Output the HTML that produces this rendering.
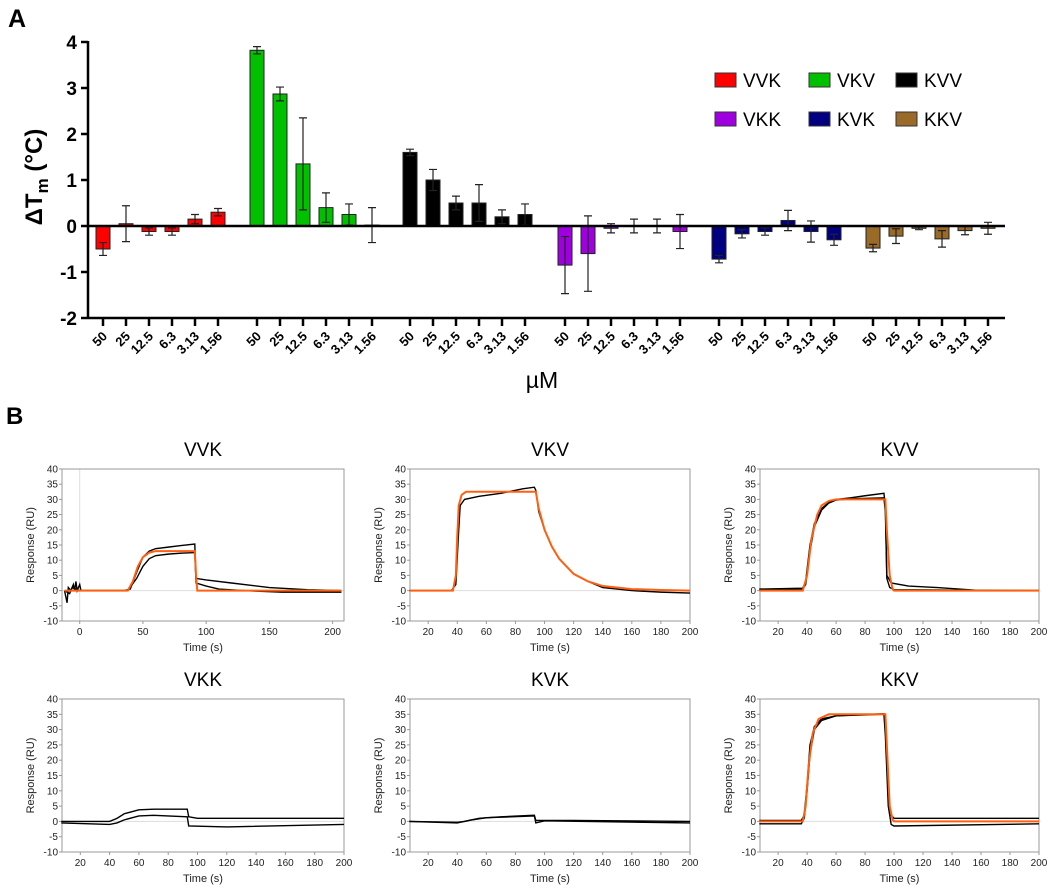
<!DOCTYPE html>
<html><head><meta charset="utf-8">
<style>
html,body{margin:0;padding:0;background:#fff;}
svg{display:block;font-family:"Liberation Sans",Arial,sans-serif;}
</style></head>
<body>
<svg id="fig" width="1050" height="895" viewBox="0 0 1050 895" xmlns="http://www.w3.org/2000/svg">
<text x="8" y="27" font-size="25" font-weight="bold">A</text>
<text x="6" y="424" font-size="24" font-weight="bold">B</text>
<g id="barchart"></g>
<g id="spr"></g>
</svg>
<script>
// ---------- Panel A data ----------
const groups = ["VVK","VKV","KVV","VKK","KVK","KKV"];
const groupColors = ["#ff0000","#00c000","#000000","#a000e0","#000080","#9a6a28"];
const concLabels = ["50","25","12.5","6.3","3.13","1.56"];
const vVVK = [-0.5,0.05,-0.12,-0.12,0.15,0.3];
const eVVK = [0.14,0.39,0.08,0.08,0.1,0.08];
const vVKV = [3.82,2.87,1.35,0.4,0.25,0.02];
const eVKV = [0.08,0.15,1.0,0.32,0.23,0.38];
const vKVV = [1.6,1.0,0.5,0.5,0.2,0.25];
const eKVV = [0.07,0.23,0.15,0.4,0.15,0.23];
const vVKK = [-0.85,-0.6,-0.05,0,0,-0.12];
const eVKK = [0.62,0.82,0.1,0.15,0.15,0.37];
const vKVK = [-0.72,-0.17,-0.12,0.12,-0.12,-0.3];
const eKVK = [0.08,0.09,0.08,0.22,0.23,0.12];
const vKKV = [-0.48,-0.22,-0.05,-0.28,-0.1,-0.05];
const eKKV = [0.08,0.16,0.03,0.18,0.09,0.13];
const yTicks = [-2,-1,0,1,2,3,4];

// ---------- Panel B data (time s, response RU) ----------
const panelTitles = ["VVK","VKV","KVV","VKK","KVK","KKV"];
const t_VVK_a=[-12,-10,-9,-7,-5,-4,-3,-2,0,1,35,40,45,50,55,60,70,80,91,92,100,120,150,180,207];
const r_VVK_a=[0,-4,1,0,2,0,3,0,2,0,0,0.5,6,11,13,13.8,14.3,14.8,15.3,4,3.5,2.5,1,0.3,0];
const t_VVK_b=[-12,-8,-6,0,38,45,50,55,60,70,80,91,92,100,110,130,160,207];
const r_VVK_b=[0,-1,1,0,0,4,8,10.5,11.5,12,12.3,12.5,2.5,1.5,0.5,0,-0.5,-0.5];
const t_VVK_f=[-12,38,42,46,50,55,60,91,92,93,207];
const r_VVK_f=[0,0,3,8,11,12.5,13,13,5,0,0];
const t_VKV_a=[7,36,39,41,42,45,55,70,85,93,94,96,100,105,110,120,130,140,160,180,200];
const r_VKV_a=[0,0,2,20,28,30,31,32,33.5,34,33,26,20,14.5,10.5,5.5,3,1,0,-0.5,-0.8];
const t_VKV_f=[7,37,39,40,41,43,46,94,96,100,105,110,120,130,140,160,180,200];
const r_VKV_f=[0,0,5,18,28,31.5,32.5,32.5,27,20,14.5,10.5,5.5,3,1.5,0.5,0.2,0];
const t_KVV_a=[7,37,39,42,45,50,55,60,70,80,93,94,95,98,110,130,160,200];
const r_KVV_a=[0.5,0.8,3,15,22,27,29,30,30.5,31.2,32,28,5,2.5,1.5,1,0,0];
const t_KVV_b=[7,37,39,42,45,50,55,60,70,93,94,95,97,100,200];
const r_KVV_b=[0.3,0.5,2,13,21,26.5,28.8,29.8,30.2,30.5,26,4,1,0.3,0];
const t_KVV_f=[7,37,40,43,47,50,55,60,94,95,97,99,100,200];
const r_KVV_f=[0,0,5,17,25,28,29.5,30,30,20,5,0.5,0,0];
const t_VKK_a=[7,40,45,50,60,70,93,94,100,200];
const r_VKK_a=[0,0,1,2.5,3.8,4,4,1.5,1,1];
const t_VKK_b=[7,40,45,50,60,70,93,94,120,200];
const r_VKK_b=[-0.5,-1,-0.5,0.5,1.8,2,1.5,-1.5,-1.8,-1];
const t_KVK_a=[7,40,45,55,70,93,94,120,200];
const r_KVK_a=[0,-0.3,0,1,1.5,2,0.3,0.3,0];
const t_KVK_b=[7,40,50,60,93,94,100,200];
const r_KVK_b=[0,-0.5,0.5,1.2,1.8,-0.5,0.2,-0.5];
const t_KKV_a=[7,36,38,40,42,45,50,60,93,94,96,98,100,200];
const r_KKV_a=[0.3,0.3,2,12,25,31,33.5,34.5,35.2,30,8,2,1,1];
const t_KKV_b=[7,36,38,40,42,45,50,60,93,94,96,98,100,200];
const r_KKV_b=[-0.8,-0.8,1,10,22,30,33,34.5,35,28,5,-1,-1.5,-0.8];
const t_KKV_f=[7,37,39,41,44,48,55,94,95,97,99,100,200];
const r_KKV_f=[0,0,5,18,29,33.5,35,35,25,5,0.5,0,0];
const sprY = [-10,-5,0,5,10,15,20,25,30,35,40];
const xTicksVVK = [0,50,100,150,200];
const xTicksStd = [20,40,60,80,100,120,140,160,180,200];

const NS="http://www.w3.org/2000/svg";
function mk(tag,attrs,parent){const e=document.createElementNS(NS,tag);for(const k in attrs)e.setAttribute(k,attrs[k]);parent.appendChild(e);return e;}

// ---------- Panel A ----------
const A=document.getElementById('barchart');
const y0=226, unit=46, axX=88, axBottom=318, axRight=1005;
const yA=v=>y0-v*unit;
const groupStart=[103,257,410,565,719,873];
const step=23, bw=14;
const vals=[vVVK,vVKV,vKVV,vVKK,vKVK,vKKV];
const errs=[eVVK,eVKV,eKVV,eVKK,eKVK,eKKV];
vals.forEach((arr,g)=>{
  arr.forEach((v,i)=>{
    const cx=groupStart[g]+i*step;
    const top=Math.min(yA(v),y0), h=Math.abs(yA(v)-y0);
    const r=mk('rect',{x:cx-bw/2,y:top,width:bw,height:Math.max(h,0.5),fill:groupColors[g],stroke:'#222','stroke-width':1},A);
    
    
    const e=errs[g][i];
    const eb=mk('path',{d:`M${cx},${yA(v+e)}V${yA(v-e)}M${cx-4},${yA(v+e)}h8M${cx-4},${yA(v-e)}h8`,stroke:'#222','stroke-width':1.2,fill:'none'},A);
    
    
    mk('line',{x1:cx,y1:axBottom,x2:cx,y2:axBottom+8,stroke:'#000','stroke-width':2.5},A);
    const t=mk('text',{x:0,y:0,'font-size':13,'font-weight':'bold','text-anchor':'end',transform:`translate(${cx+5},${axBottom+19}) rotate(-45)`},A);
    t.textContent=concLabels[i];
    
    
  });
});
mk('line',{x1:axX,y1:y0,x2:axRight,y2:y0,stroke:'#000','stroke-width':2.5},A);
mk('line',{x1:axX,y1:yA(4)-1,x2:axX,y2:axBottom,stroke:'#000','stroke-width':2.5},A);
mk('line',{x1:axX,y1:axBottom,x2:axRight,y2:axBottom,stroke:'#000','stroke-width':2.5},A);
yTicks.forEach(v=>{
  mk('line',{x1:axX-7,y1:yA(v),x2:axX,y2:yA(v),stroke:'#000','stroke-width':2.5},A);
  const t=mk('text',{x:axX-11,y:yA(v)+7,'font-size':19,'font-weight':'bold','text-anchor':'end'},A);
  t.textContent=v;
  
  
});
{
  const t=mk('text',{x:0,y:0,'font-size':24,'font-weight':'bold','text-anchor':'middle',transform:'translate(42,177) rotate(-90)'},A);
  t.innerHTML='ΔT<tspan font-size="17" dy="6">m</tspan><tspan dy="-6"> (°C)</tspan>';
  
  
  const u=mk('text',{x:542,y:388,'font-size':23,'text-anchor':'middle'},A);
  u.textContent='µM';
  
  
}
const legX=[725,819,906], legY=[80,119];
groups.forEach((g,i)=>{
  const c=i%3, r=Math.floor(i/3);
  const s=mk('rect',{x:legX[c]-10,y:legY[r]-7,width:21,height:14,fill:groupColors[i],stroke:'#333','stroke-width':1},A);
  
  
  const t=mk('text',{x:legX[c]+18,y:legY[r]+7,'font-size':19},A);
  t.textContent=g;
  
  
});

// ---------- Panel B ----------
const B=document.getElementById('spr');
const cols=[[62,344],[410,690],[760,1039]];
const rows=[[469,621],[699,852]];
const series=[
  {xr:[-14,209],xt:xTicksVVK,vline:true,blk:[[t_VVK_a,r_VVK_a],[t_VVK_b,r_VVK_b]],fit:[t_VVK_f,r_VVK_f]},
  {xr:[7.5,200],xt:xTicksStd,blk:[[t_VKV_a,r_VKV_a]],fit:[t_VKV_f,r_VKV_f]},
  {xr:[7.5,200],xt:xTicksStd,blk:[[t_KVV_a,r_KVV_a],[t_KVV_b,r_KVV_b]],fit:[t_KVV_f,r_KVV_f]},
  {xr:[7.5,200],xt:xTicksStd,blk:[[t_VKK_a,r_VKK_a],[t_VKK_b,r_VKK_b]],fit:null},
  {xr:[7.5,200],xt:xTicksStd,blk:[[t_KVK_a,r_KVK_a],[t_KVK_b,r_KVK_b]],fit:null},
  {xr:[7.5,200],xt:xTicksStd,blk:[[t_KKV_a,r_KKV_a],[t_KKV_b,r_KKV_b]],fit:[t_KKV_f,r_KKV_f]}
];
series.forEach((s,p)=>{
  const [L,R]=cols[p%3], [T,Bt]=rows[Math.floor(p/3)];
  const g=mk('g',{},B);
  
  
  const X=v=>L+(v-s.xr[0])/(s.xr[1]-s.xr[0])*(R-L);
  const Y=v=>Bt-(v+10)/50*(Bt-T);
  const tt=mk('text',{x:(L+R)/2,y:T-13,'font-size':19,'text-anchor':'middle'},g);
  tt.textContent=panelTitles[p];
  
  
  mk('line',{x1:L,y1:Y(0),x2:R,y2:Y(0),stroke:'#ddd','stroke-width':1},g);
  if(s.vline) mk('line',{x1:X(0),y1:T,x2:X(0),y2:Bt,stroke:'#ddd','stroke-width':1},g);
  mk('rect',{x:L,y:T,width:R-L,height:Bt-T,fill:'none',stroke:'#999','stroke-width':1},g);
  sprY.forEach(v=>{
    mk('line',{x1:L-3,y1:Y(v),x2:L,y2:Y(v),stroke:'#999'},g);
    const t=mk('text',{x:L-4,y:Y(v)+3.5,'font-size':10,'text-anchor':'end',fill:'#222'},g);
    t.textContent=v;
    
    
  });
  s.xt.forEach(v=>{
    mk('line',{x1:X(v),y1:Bt,x2:X(v),y2:Bt+3,stroke:'#999'},g);
    const t=mk('text',{x:X(v),y:Bt+14,'font-size':10,'text-anchor':'middle',fill:'#222'},g);
    t.textContent=v;
    
    
  });
  const yl=mk('text',{x:0,y:0,'font-size':11,'text-anchor':'middle',fill:'#222',transform:`translate(${L-28},${(T+Bt)/2}) rotate(-90)`},g);
  yl.textContent='Response (RU)';
  
  
  const xl=mk('text',{x:(L+R)/2,y:Bt+30,'font-size':11,'text-anchor':'middle',fill:'#222'},g);
  xl.textContent='Time (s)';
  
  
  s.blk.forEach(([ts,rs])=>{
    const pl=mk('polyline',{points:ts.map((t,i)=>X(t)+','+Y(rs[i])).join(' '),fill:'none',stroke:'#000','stroke-width':1.4},g);
    
    
  });
  if(s.fit){
    const [ts,rs]=s.fit;
    const pl=mk('polyline',{points:ts.map((t,i)=>X(t)+','+Y(rs[i])).join(' '),fill:'none',stroke:'#ff6010','stroke-width':2},g);
    
    
  }
});
</script>
</body></html>
